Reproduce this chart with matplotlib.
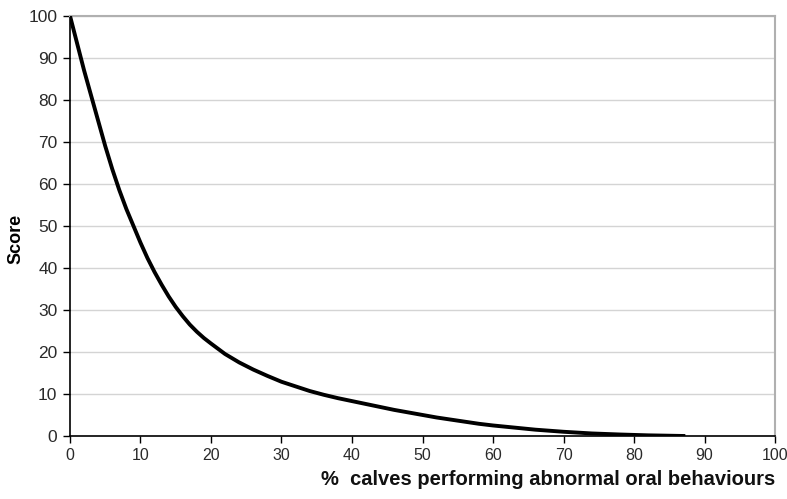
import matplotlib.pyplot as plt

plt.rcParams['font.family'] = ['Liberation Sans', 'DejaVu Sans']

# curve
pct_calves = [0, 1, 2, 3, 4, 5, 6, 7, 8, 9, 10, 11, 12, 13, 14, 15, 16, 17, 18, 19, 20,
              22, 24, 26, 28, 30, 32, 34, 36, 38, 40, 42, 44, 46, 48, 50,
              52, 54, 56, 58, 60, 63, 66, 70, 74, 78, 82, 87]
score = [100, 93.5, 87, 81, 75, 69, 63.5, 58.5, 54, 50, 46, 42.3, 39, 36, 33.2, 30.7, 28.5, 26.5, 24.8, 23.3, 22,
         19.5, 17.5, 15.8, 14.3, 12.9, 11.8, 10.7, 9.8, 9.0, 8.3, 7.6, 6.9, 6.2, 5.6, 5.0,
         4.4, 3.9, 3.4, 2.9, 2.5, 2.0, 1.5, 1.0, 0.6, 0.35, 0.15, 0]

x_ticks = list(range(0, 101, 10))
y_ticks = list(range(0, 101, 10))

fig = plt.figure(figsize=(7.87, 4.99), dpi=100)
ax = fig.add_axes([0.0889, 0.1263, 0.8959, 0.8422])

ax.plot(pct_calves, score, color='black', lw=2.8, solid_joinstyle='round', zorder=3)

ax.set_xlim(0, 100)
ax.set_ylim(0, 100)
ax.set_xticks(x_ticks)
ax.set_yticks(y_ticks)
ax.yaxis.grid(True, color='#d4d4d4', lw=1)
ax.set_axisbelow(True)
ax.tick_params(direction='out', length=5, width=1, colors='black', labelcolor='#2a2a2a')
ax.tick_params(axis='x', labelsize=11.5, pad=4)
ax.tick_params(axis='y', labelsize=12.5, pad=4)

for side in ['left', 'bottom']:
    ax.spines[side].set_color('black')
    ax.spines[side].set_linewidth(1.2)
for side in ['top', 'right']:
    ax.spines[side].set_color('#b0b0b0')
    ax.spines[side].set_linewidth(1.5)

ax.set_ylabel('Score', fontsize=13, fontweight='bold')
ax.yaxis.set_label_coords(-0.064, 0.47)
ax.set_xlabel('%  calves performing abnormal oral behaviours', fontsize=14.5,
              fontweight='bold', loc='right', labelpad=5, color='#111111')

fig.savefig('out.png', dpi=100)
